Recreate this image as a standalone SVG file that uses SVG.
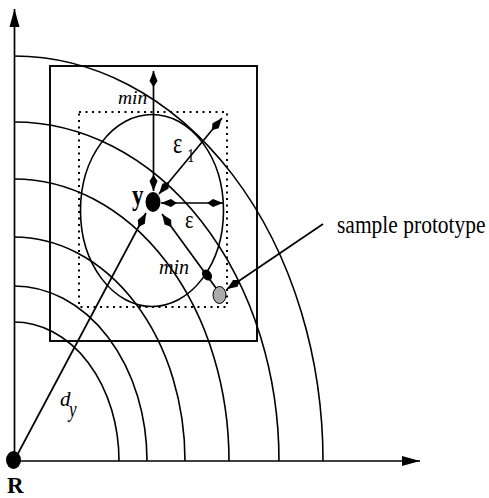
<svg xmlns="http://www.w3.org/2000/svg" width="489" height="498" viewBox="0 0 489 498">
<style>
.ln{stroke:#000;stroke-width:1.7;fill:none}
.arc{stroke:#000;stroke-width:1.6;fill:none}
.t{font-family:"Liberation Serif","Times New Roman",serif;fill:#000}
.it{font-style:italic}
.bd{font-weight:bold}
</style>
<defs>
<marker id="kite" viewBox="-17 -5 18 10" refX="0" refY="0" markerWidth="18" markerHeight="10" markerUnits="userSpaceOnUse" orient="auto-start-reverse">
<path d="M0,0 L-10,-4 L-16,0 L-10,4 Z" fill="#000"/>
</marker>
<marker id="tri" viewBox="-19 -6 20 12" refX="0" refY="0" markerWidth="20" markerHeight="12" markerUnits="userSpaceOnUse" orient="auto">
<path d="M0,0 L-18,-5 L-18,5 Z" fill="#000"/>
</marker>
</defs>
<rect width="489" height="498" fill="#fff"/>

<g id="axes">
<line class="ln" x1="14" y1="461" x2="420" y2="461" marker-end="url(#tri)"/>
<line class="ln" x1="14.5" y1="461" x2="14.5" y2="9" marker-end="url(#tri)"/>
</g>

<g id="level-arcs">
<path class="arc" d="M14,322 A105,139 0 0 1 119,461"/>
<path class="arc" d="M14,286 A133,175 0 0 1 147,461"/>
<path class="arc" d="M14,237 A171,224 0 0 1 185,461"/>
<path class="arc" d="M14,179 A215,282 0 0 1 229,461"/>
<path class="arc" d="M14,122 A265,339 0 0 1 279,461"/>
<path class="arc" d="M14,56 A309,405 0 0 1 323,461"/>
</g>

<g id="regions">
<rect x="50" y="66" width="207" height="275" fill="none" stroke="#000" stroke-width="1.9"/>
<rect x="79" y="112" width="148" height="195" fill="none" stroke="#000" stroke-width="2" stroke-dasharray="2 4.5"/>
<ellipse cx="152" cy="210.5" rx="71.5" ry="96" fill="none" stroke="#000" stroke-width="1.6"/>
</g>

<g id="connectors">
<line class="ln" x1="153.5" y1="191" x2="153.5" y2="71" marker-start="url(#kite)" marker-end="url(#kite)"/>
<line class="ln" x1="159" y1="194" x2="222" y2="118" marker-start="url(#kite)" marker-end="url(#kite)"/>
<line class="ln" x1="161" y1="203" x2="223" y2="203" marker-start="url(#kite)" marker-end="url(#kite)"/>
<line class="ln" x1="14" y1="461" x2="146" y2="213" marker-end="url(#kite)"/>
<line class="ln" x1="216" y1="288" x2="162" y2="214" marker-end="url(#kite)"/>
<line class="ln" x1="323" y1="224" x2="227" y2="289" marker-end="url(#kite)"/>
</g>

<g id="node-R">
<ellipse cx="13.5" cy="460" rx="7.5" ry="9" fill="#000"/>
<text class="t bd" x="7" y="493" font-size="23">R</text>
</g>

<g id="node-y">
<ellipse cx="153" cy="202" rx="7.5" ry="10" fill="#000"/>
<text class="t bd" font-size="23" transform="translate(132,205) scale(1,1.25)">y</text>
</g>

<g id="node-min-point">
<ellipse cx="207" cy="275" rx="4.5" ry="6" fill="#000" transform="rotate(-35 207 275)"/>
</g>

<g id="node-sample">
<ellipse cx="219.5" cy="295" rx="6.5" ry="8.5" fill="#aaa" stroke="#000" stroke-width="1"/>
<text class="t" font-size="21.5" transform="translate(337,233) scale(1,1.15)">sample prototype</text>
</g>

<g id="labels">
<text class="t it" x="118" y="104" font-size="19.5">min</text>
<text class="t it" x="159" y="274" font-size="20">min</text>
<text class="t" font-size="22" transform="translate(173,153) scale(1,1.3)">ε</text>
<text class="t" font-size="15" transform="translate(187,162) scale(1,1.2)">1</text>
<text class="t" font-size="20" transform="translate(185,228) scale(1,1.3)">ε</text>
<text class="t it" x="60" y="406" font-size="21">d</text>
<text class="t it" font-size="17" transform="translate(69,417) scale(1,1.3)">y</text>
</g>
</svg>
